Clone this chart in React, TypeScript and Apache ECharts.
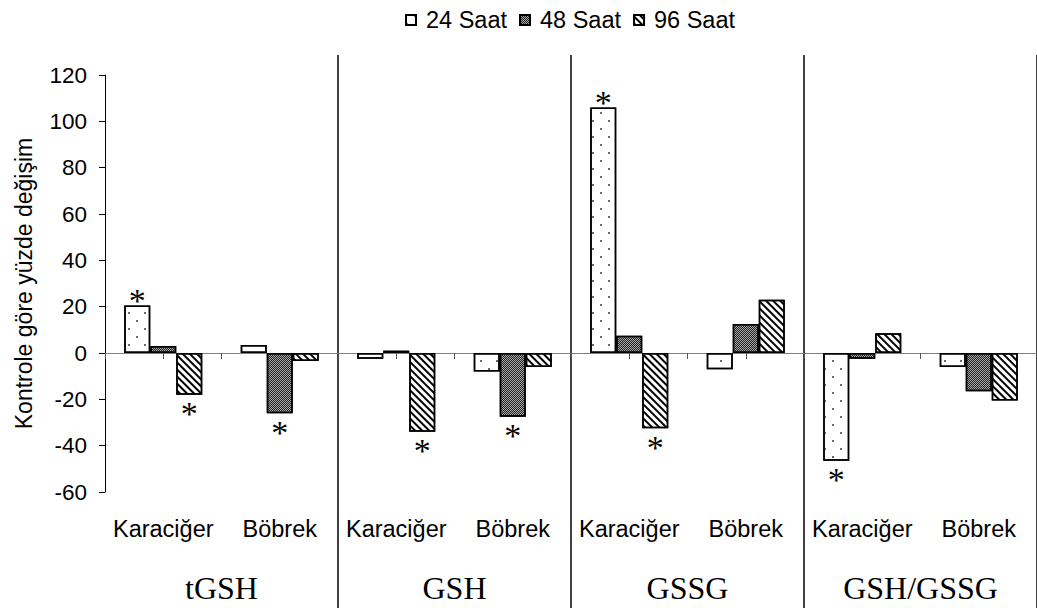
import React, { useEffect, useRef } from "react";
import * as echarts from "echarts";

// Glutathione measures, grouped by marker, each split into liver / kidney
const groups = ["tGSH", "GSH", "GSSG", "GSH/GSSG"];
const tissues = ["Karaciğer", "Böbrek"];
const categories = groups.flatMap(() => tissues);

const seriesNames = ["24 Saat", "48 Saat", "96 Saat"];

// Percent change relative to control
const h24 = [20.5, 3.5, -2.5, -8, 106, -7, -46.5, -6];
const h48 = [3, -26, 1, -27.5, 7.5, 12.5, -2.5, -16.5];
const h96 = [-18, -3.5, -34, -6, -32.5, 23, 8.5, -20.5];

// Significance markers (1 = significant)
const sig24 = [1, 0, 0, 0, 1, 0, 1, 0];
const sig48 = [0, 1, 0, 1, 0, 0, 0, 0];
const sig96 = [1, 0, 1, 0, 1, 0, 0, 0];

const yTicks = { min: -60, max: 120, step: 20 };

const SANS = "Liberation Sans";
const SERIF = "Liberation Serif";

const decals = [
  {
    symbol: "rect",
    symbolSize: 1,
    color: "#6a6a6a",
    dashArrayX: [
      [2, 14],
      [0, 8, 2, 6],
    ],
    dashArrayY: [2, 6],
    rotation: 0,
  },
  {
    symbol: "rect",
    symbolSize: 1,
    color: "#222",
    dashArrayX: [
      [1, 1],
      [0, 1, 1, 0],
    ],
    dashArrayY: [1, 0],
    rotation: 0,
  },
  {
    symbol: "rect",
    symbolSize: 1,
    color: "#000",
    dashArrayX: [1, 0],
    dashArrayY: [1.5, 3],
    rotation: Math.PI / 4,
  },
];
const fills = ["#ffffff", "#a8a8a8", "#ffffff"];

function starLabel(v: number) {
  const up = v >= 0;
  return {
    show: true,
    position: up ? "top" : "bottom",
    distance: up ? -12 : 2,
    formatter: "*",
    fontFamily: SERIF,
    fontSize: 34,
    color: "#000",
  };
}

function buildSeries(name: string, values: number[], sig: number[], idx: number) {
  return {
    type: "bar",
    name,
    xAxisIndex: 0,
    yAxisIndex: 0,
    barWidth: 26,
    barGap: "0%",
    z: 3,
    data: values.map((v, i) => (sig[i] ? { value: v, label: starLabel(v) } : v)),
    itemStyle: {
      color: fills[idx],
      borderColor: "#000",
      borderWidth: 1.5,
      decal: decals[idx],
    },
    emphasis: { disabled: true },
  };
}

export default function App() {
  const ref = useRef<HTMLDivElement>(null);

  useEffect(() => {
    if (!ref.current) return;
    const chart = echarts.init(ref.current, undefined, { renderer: "svg" });
    chart.setOption({
      animation: false,
      backgroundColor: "#ffffff",
      textStyle: { fontFamily: SANS },
      legend: {
        data: seriesNames,
        left: 400,
        top: 3,
        itemWidth: 10,
        itemHeight: 10,
        itemGap: 12,
        icon: "rect",
        textStyle: { fontFamily: SANS, fontSize: 23.5, color: "#000", padding: [0, 0, 0, 5] },
      },
      grid: [
        { left: 105, width: 932, top: 75, bottom: 116, outerBoundsMode: "none", containLabel: false },
        { left: 105, width: 932, top: 55, bottom: 0, outerBoundsMode: "none", containLabel: false },
      ],
      xAxis: [
        {
          type: "category",
          gridIndex: 0,
          data: categories,
          position: "bottom",
          axisLine: { show: false, onZero: false },
          axisTick: { show: false },
          splitLine: { show: false },
          axisLabel: { margin: 25, fontFamily: SANS, fontSize: 23.5, color: "#000", interval: 0 },
        },
        {
          // zero baseline with half-category tick marks
          type: "value",
          gridIndex: 0,
          min: 0,
          max: categories.length * 2,
          interval: 1,
          position: "bottom",
          axisLine: { show: true, onZero: true, lineStyle: { color: "#808080", width: 1 } },
          axisTick: { show: true, length: 6, inside: false, lineStyle: { color: "#555", width: 1 } },
          axisLabel: { show: false },
          splitLine: { show: false },
        },
        {
          // marker group names and the dividers between them
          type: "category",
          gridIndex: 1,
          data: groups,
          position: "bottom",
          axisLine: { show: false },
          axisTick: { show: false },
          splitLine: {
            show: true,
            interval: (i: number) => i > 0 && i < groups.length,
            lineStyle: { color: "#000", width: 1.5 },
          },
          axisLabel: { inside: true, margin: 4, fontFamily: SERIF, fontSize: 32, color: "#000" },
        },
      ],
      yAxis: [
        {
          type: "value",
          gridIndex: 0,
          min: yTicks.min,
          max: yTicks.max,
          interval: yTicks.step,
          name: "Kontrole göre yüzde değişim",
          nameLocation: "middle",
          nameGap: 70,
          nameTextStyle: { fontFamily: SANS, fontSize: 23, color: "#000" },
          axisLine: { show: true, onZero: false, lineStyle: { color: "#000", width: 1 } },
          axisTick: { show: true, length: 6, inside: false, lineStyle: { color: "#000" } },
          axisLabel: { margin: 18, fontFamily: SANS, fontSize: 22.5, color: "#000" },
          splitLine: { show: false },
        },
        { type: "value", gridIndex: 1, min: 0, max: 1, show: false },
      ],
      series: [
        buildSeries(seriesNames[0], h24, sig24, 0),
        buildSeries(seriesNames[1], h48, sig48, 1),
        buildSeries(seriesNames[2], h96, sig96, 2),
      ],
    });
    return () => chart.dispose();
  }, []);

  return (
    <div
      ref={ref}
      style={{ position: "absolute", left: 0, top: 0, width: 1037, height: 608, background: "#fff" }}
    />
  );
}
